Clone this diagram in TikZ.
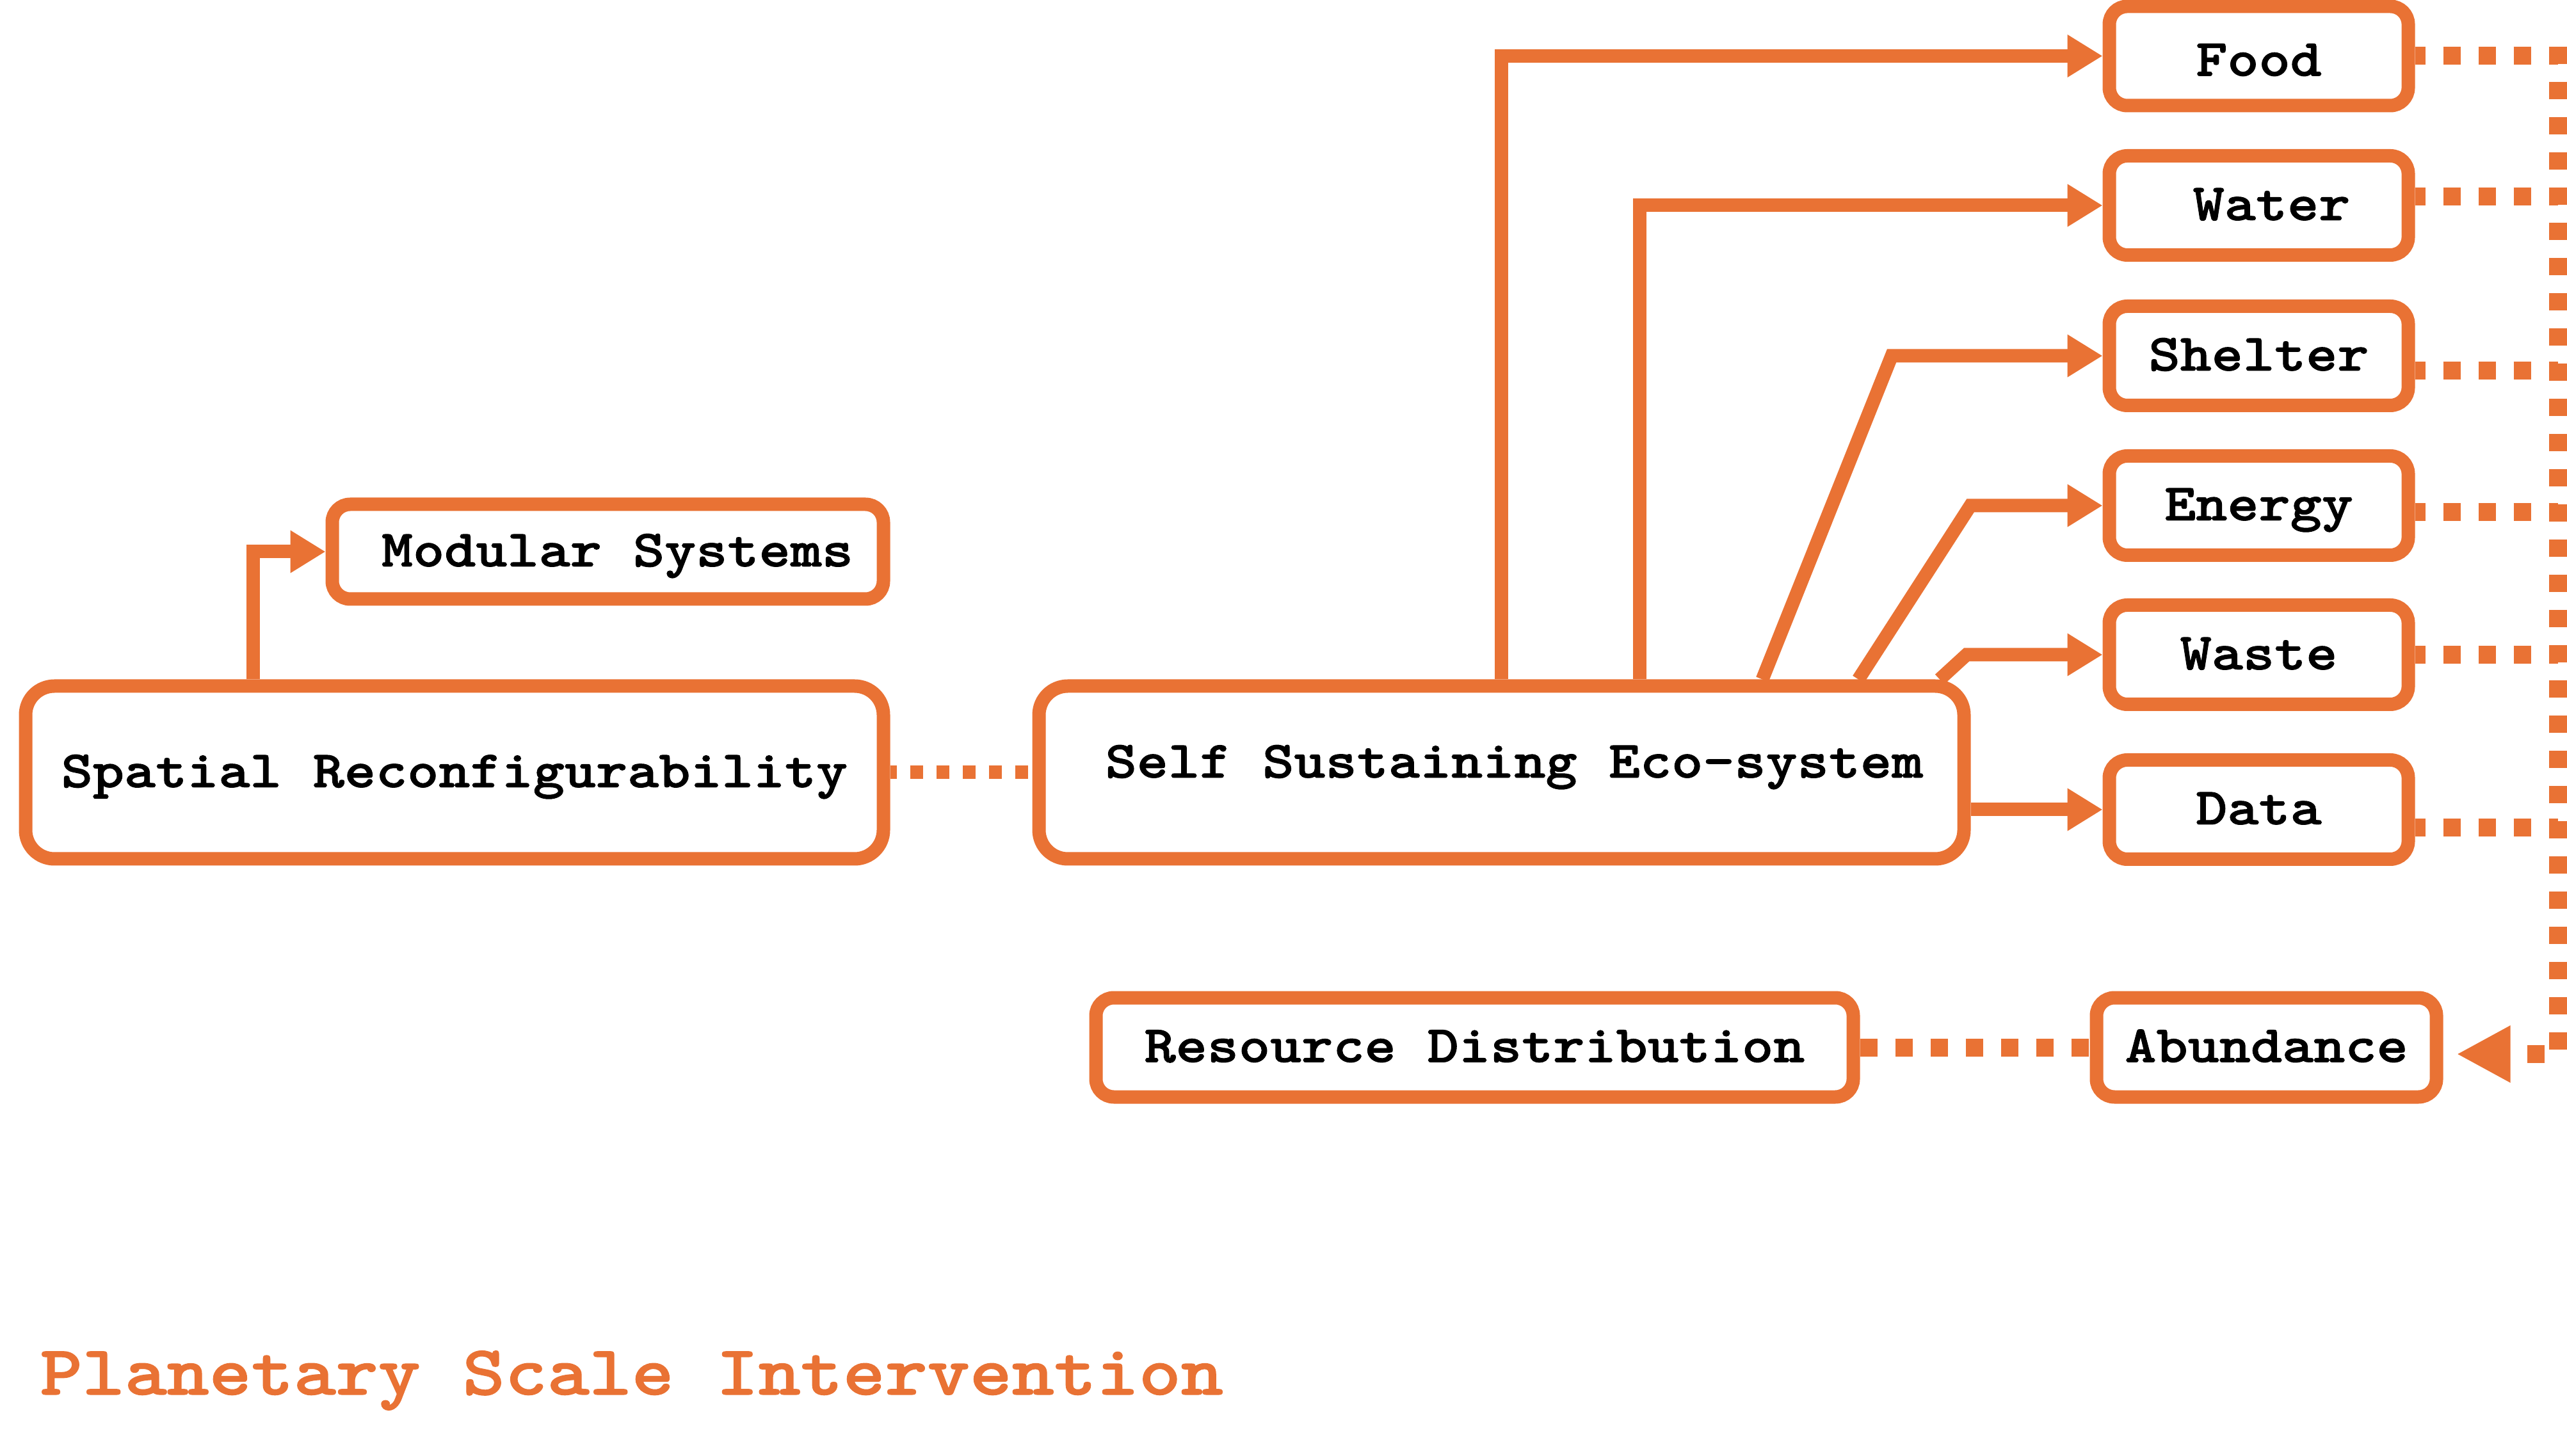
\documentclass[tikz,border=0pt]{standalone}
\usepackage{fontspec}
\newfontfamily\diagfont{lmmonolt10-bold}[Extension=.otf, FakeStretch=1.143, FakeBold=1.2]
\usetikzlibrary{arrows.meta}
\definecolor{orng}{HTML}{E97234}

\tikzset{
  box/.style={draw=orng, line width=0.21cm, rounded corners=0.28cm, fill=white,
    inner sep=0pt, minimum height=1.55cm, text height=0.58cm, text depth=0.12cm,
    font=\diagfont\fontsize{23.3}{28}\selectfont},
  bigbox/.style={box, rounded corners=0.45cm, minimum height=2.70cm},
  link/.style={draw=orng, line width=0.21cm, -{Triangle[length=0.55cm,width=0.63cm]}},
  dots/.style={draw=orng, line width=0.28cm, dash pattern=on 0.27cm off 0.28cm},
  finedots/.style={draw=orng, line width=0.21cm, dash pattern=on 0.20cm off 0.21cm, dash phase=0.1cm},
}

\begin{document}
\begin{tikzpicture}
\useasboundingbox (0,0) rectangle (40.10,22.74);

% left part
\node[bigbox, minimum width=13.40cm] (spatial) at (7.10,10.67) {Spatial Reconfigurability};
\node[box, minimum width=8.61cm, minimum height=1.48cm] (modular) at (9.495,14.12) {\hspace{0.3cm}Modular Systems};
\node[bigbox, minimum width=14.45cm, text depth=0.42cm] (self) at (23.455,10.67) {\hspace{0.4cm}Self Sustaining Eco-system};

% right column
\node[box, minimum width=4.67cm, text height=0.62cm, text depth=0cm] (food) at (35.285,21.865) {Food};
\node[box, minimum width=4.67cm] (water) at (35.285,19.53) {\hspace{0.4cm}Water};
\node[box, minimum width=4.67cm] (shelter) at (35.285,17.18) {Shelter};
\node[box, minimum width=4.67cm] (energy) at (35.285,14.84) {Energy};
\node[box, minimum width=4.67cm] (waste) at (35.285,12.51) {Waste};
\node[box, minimum width=4.67cm] (data) at (35.285,10.09) {Data};

% bottom row
\node[box, minimum width=5.31cm] (abund) at (35.405,6.375) {Abundance};
\node[box, minimum width=11.83cm] (resource) at (23.035,6.375) {Resource Distribution};

\node[anchor=base west, inner sep=0pt, text=orng,
  font=\diagfont\fontsize{31.3}{36}\selectfont] (title) at (0.62,0.95) {Planetary Scale Intervention};

% solid links
\draw[link] ([xshift=-3.15cm]spatial.north) |- (modular.west);
\draw[link] (self.north) |- (food.west);
\draw[link] ([xshift=2.155cm]self.north) |- (water.west);
\draw[link] ([xshift=4.075cm]self.north) -- ([xshift=-3.295cm]shelter.west) -- (shelter.west);
\draw[link] ([xshift=5.575cm]self.north) -- ([xshift=-2.065cm]energy.west) -- (energy.west);
\draw[link] ([xshift=6.845cm]self.north) -- ([xshift=-2.125cm]waste.west) -- (waste.west);
\draw[link] (self.east |- data.west) -- (data.west);

% dotted links
\draw[finedots] (spatial.east) -- (self.west);
\draw[dots] (resource.east) -- (abund.west);

\coordinate (rail) at (39.96,22.01);
\coordinate (railend) at (39.96,6.27);
\foreach \name/\dy in {food/0, water/0.14, shelter/-0.23, energy/-0.10, waste/0, data/-0.28}
  \draw[dots, dash phase=0.11cm] ([yshift=\dy cm]\name.east) coordinate (s) -- (s -| rail);
\draw[dots, -{Triangle[length=0.84cm,width=0.83cm]}, shorten >=0.21cm]
  (rail) -- (railend) -- ([yshift=-0.105cm]abund.east);
\end{tikzpicture}
\end{document}
